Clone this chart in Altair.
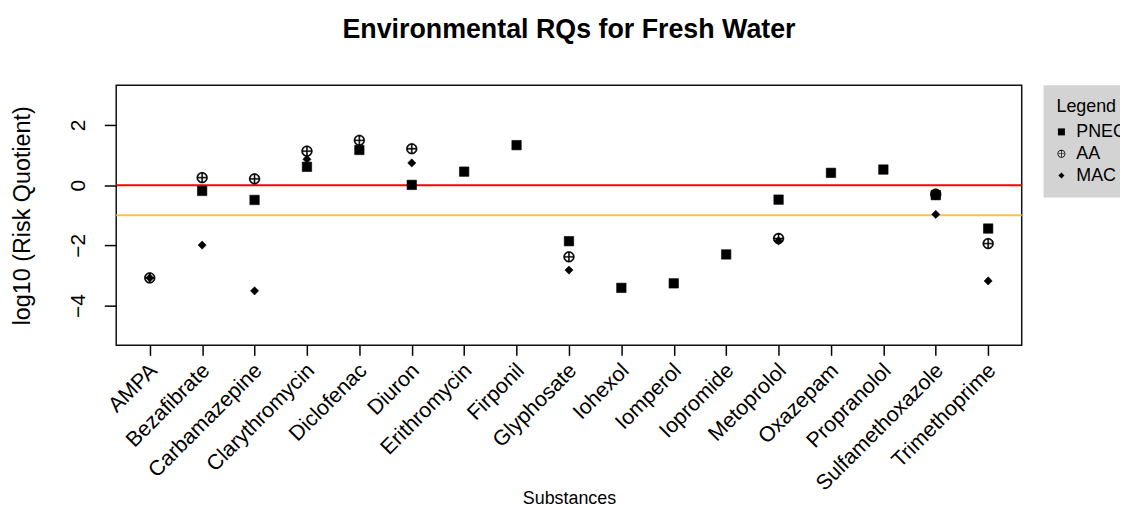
import altair as alt
import pandas as pd

substances = ["AMPA", "Bezafibrate", "Carbamazepine", "Clarythromycin", "Diclofenac",
              "Diuron", "Erithromycin", "Firponil", "Glyphosate", "Iohexol", "Iomperol",
              "Iopromide", "Metoprolol", "Oxazepam", "Propranolol", "Sulfamethoxazole",
              "Trimethoprime"]
pnec = [None, -0.19, -0.49, 0.61, 1.17, 0.01, 0.45, 1.33, -1.86, -3.41, -3.26,
        -2.30, -0.48, 0.41, 0.52, -0.33, -1.44]
aa = [-3.08, 0.25, 0.21, 1.13, 1.49, 1.21, None, None, -2.38, None, None,
      None, -1.77, None, None, -0.30, -1.94]
mac = [-3.08, -1.99, -3.51, 0.86, None, 0.74, None, None, -2.82, None, None,
       None, -1.85, None, None, -0.97, -3.18]
measures = ["PNEC", "AA", "MAC"]
thresholds = [0, -1]
threshold_colors = ["#ff0000", "#ffbe4d"]
y_ticks = [-4, -2, 0, 2]
y_domain = [-5.32, 3.32]

FONT = "Liberation Sans"

rows = []
for m, vals in zip(measures, [pnec, aa, mac]):
    for s, v in zip(substances, vals):
        if v is not None:
            rows.append({"substance": s, "measure": m, "value": v})
df = pd.DataFrame(rows)
rule_df = pd.DataFrame({"value": thresholds, "color": threshold_colors})

# symbol outlines (unit coordinates, drawn filled)
square_path = "M-0.95,-0.95H0.95V0.95H-0.95Z"
circle_plus = ("M-1.08,0A1.08,1.08,0,1,0,1.08,0A1.08,1.08,0,1,0,-1.08,0Z"
               "M-0.87,0A0.87,0.87,0,1,1,0.87,0A0.87,0.87,0,1,1,-0.87,0Z"
               "M-0.9,-0.09H0.9V0.09H-0.9Z"
               "M-0.09,-0.9H0.09V0.9H-0.09Z")
diamond_path = "M0,-0.82L0.82,0L0,0.82L-0.82,0Z"

yscale = alt.Scale(domain=y_domain, nice=False, zero=False)

x_enc = alt.X(
    "substance:N", sort=substances,
    scale=alt.Scale(type="point", padding=0.64),
    title="Substances",
    axis=alt.Axis(
        labelAngle=-45, labelAlign="right", labelBaseline="middle",
        labelFont=FONT, labelFontSize=21.5, labelColor="black", labelLimit=0,
        labelOverlap=False, labelPadding=12, labelOffset=4,
        tickSize=10, tickColor="black", tickWidth=1.5, domain=False, grid=False,
        titleFont=FONT, titleFontSize=18, titleFontWeight="normal", titleColor="black",
        titleX=456, titleY=159, titleBaseline="alphabetic", titleAlign="center",
    ),
)

y_axis = alt.Axis(
    values=y_ticks, labelAngle=270, labelAlign="center", labelBaseline="middle",
    labelFont=FONT, labelFontSize=21, labelColor="black", labelPadding=26,
    tickSize=12, tickColor="black", tickWidth=1.5, domain=False, grid=False,
    titleFont=FONT, titleFontSize=23.5, titleFontWeight="normal", titleColor="black",
    titleX=-94, titleY=131, titleAngle=270, titleBaseline="middle", titleAlign="center",
)

rules = alt.Chart(rule_df).mark_rule(strokeWidth=2).encode(
    y=alt.Y("value:Q", scale=yscale, axis=y_axis, title="log10 (Risk Quotient)"),
    color=alt.Color("color:N", scale=None),
)

points = alt.Chart(df).mark_point(
    filled=True, fill="black", stroke="black", strokeWidth=0.6, size=100, opacity=1
).encode(
    x=x_enc,
    y=alt.Y("value:Q", scale=yscale, axis=y_axis, title="log10 (Risk Quotient)"),
    shape=alt.Shape("measure:N", sort=measures,
                    scale=alt.Scale(domain=measures,
                                    range=[square_path, circle_plus, diamond_path]),
                    legend=alt.Legend(
                        title="Legend", orient="none", legendX=934, legendY=0,
                        fillColor="#d3d3d3", padding=13,
                        titleFont=FONT, titleFontSize=18, titleFontWeight="normal",
                        titleColor="black",
                        labelFont=FONT, labelFontSize=18, labelColor="black",
                        symbolSize=55, symbolStrokeWidth=0.5,
                        symbolFillColor="black", symbolStrokeColor="black",
                        symbolOpacity=1,
                        rowPadding=4, titlePadding=7,
                        symbolOffset=-4, labelOffset=6,
                    )),
)

chart = alt.layer(rules, points).properties(
    width=912, height=262,
    autosize=alt.AutoSizeParams(type="none"),
    padding={"left": 109, "top": 76, "right": 99, "bottom": 160},
    title=alt.TitleParams("Environmental RQs for Fresh Water", font=FONT, fontSize=27,
                          fontWeight="bold", anchor="middle", offset=42, color="black"),
).configure_view(stroke="#111111", strokeWidth=1.5)

chart.save("out.html", embed_options={"renderer": "svg", "actions": False})
